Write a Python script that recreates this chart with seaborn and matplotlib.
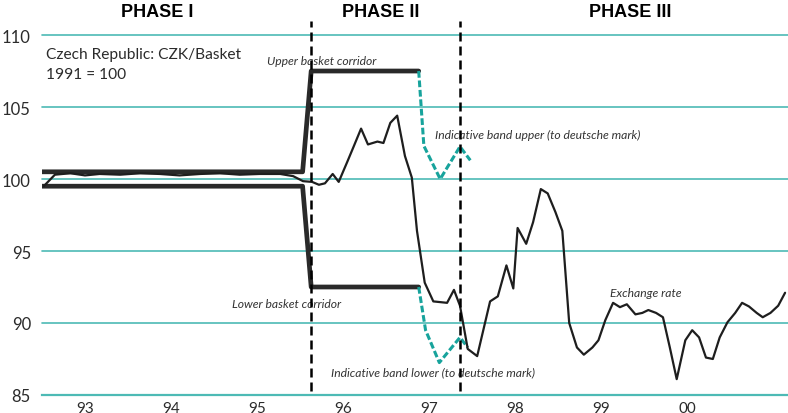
import matplotlib
matplotlib.use("Agg")
import matplotlib.pyplot as plt
import seaborn as sns

# data (x in decimal years)
upper_x = [1993.0, 1996.03, 1996.13, 1997.38]
upper_y = [100.5, 100.5, 107.5, 107.5]
lower_x = [1993.0, 1996.03, 1996.13, 1997.38]
lower_y = [99.5, 99.5, 92.5, 92.5]

band_up_x = [1997.38, 1997.44, 1997.63, 1997.86, 1997.98]
band_up_y = [107.5, 102.3, 100.0, 102.25, 101.3]
band_lo_x = [1997.38, 1997.46, 1997.62, 1997.86, 1997.95]
band_lo_y = [92.5, 89.5, 87.25, 89.0, 88.3]

rate_x = [1993.02, 1993.15, 1993.33, 1993.5, 1993.67, 1993.91, 1994.14, 1994.37,
          1994.6, 1994.84, 1995.07, 1995.3, 1995.53, 1995.77, 1995.92,
          1996.035, 1996.14, 1996.22, 1996.29, 1996.38, 1996.45, 1996.55, 1996.62,
          1996.71, 1996.79, 1996.90, 1996.97, 1997.05, 1997.13, 1997.22, 1997.30,
          1997.36, 1997.45, 1997.55, 1997.71, 1997.79, 1997.86, 1997.95, 1998.06,
          1998.21, 1998.30, 1998.40, 1998.48, 1998.53, 1998.63, 1998.71, 1998.80,
          1998.88, 1998.97, 1999.05, 1999.13, 1999.22, 1999.30, 1999.40, 1999.47,
          1999.55, 1999.64, 1999.72, 1999.80, 1999.90, 1999.98, 2000.05, 2000.14,
          2000.22, 2000.30, 2000.38, 2000.48, 2000.56, 2000.64, 2000.72, 2000.80,
          2000.88, 2000.97, 2001.06, 2001.14, 2001.22, 2001.31, 2001.38, 2001.47,
          2001.56, 2001.64]
rate_y = [99.5, 100.3, 100.4, 100.25, 100.35, 100.3, 100.4, 100.35,
          100.25, 100.35, 100.4, 100.3, 100.35, 100.35, 100.2,
          99.85, 99.8, 99.6, 99.7, 100.35, 99.8, 101.2, 102.2,
          103.5, 102.4, 102.6, 102.5, 103.9, 104.4, 101.6, 100.1,
          96.4, 92.8, 91.5, 91.4, 92.3, 91.2, 88.2, 87.7,
          91.5, 91.85, 94.0, 92.4, 96.6, 95.5, 97.0, 99.3,
          99.0, 97.7, 96.4, 90.0, 88.3, 87.8, 88.3, 88.8,
          90.2, 91.4, 91.1, 91.3, 90.6, 90.7, 90.9, 90.7,
          90.4, 88.3, 86.1, 88.8, 89.5, 89.0, 87.6, 87.5,
          89.0, 90.05, 90.7, 91.4, 91.15, 90.7, 90.4, 90.7,
          91.2, 92.1]

phase_breaks = [1996.128, 1997.86]
year_labels = ['93', '94', '95', '96', '97', '98', '99', '00']

sns.set_style("white")
plt.rcParams['font.family'] = ['Lato', 'DejaVu Sans']

teal = '#4dbab5'
teal_dark = '#17a39c'
ink = '#2b2b2b'

fig = plt.figure(figsize=(7.88, 4.14), dpi=100)
ax = fig.add_axes([0.0533, 0.0435, 0.9467, 0.8695])

for v in [90, 95, 100, 105, 110]:
    ax.axhline(v, color=teal, lw=1.2, zorder=1, clip_on=False)

sns.lineplot(x=upper_x, y=upper_y, ax=ax, color='#2a2a2a', lw=3.4, zorder=3)
sns.lineplot(x=lower_x, y=lower_y, ax=ax, color='#2a2a2a', lw=3.4, zorder=3)
sns.lineplot(x=band_up_x, y=band_up_y, ax=ax, color=teal_dark, lw=2.2,
             linestyle=(0, (2.2, 0.9)), zorder=3)
sns.lineplot(x=band_lo_x, y=band_lo_y, ax=ax, color=teal_dark, lw=2.2,
             linestyle=(0, (2.2, 0.9)), zorder=3)
sns.lineplot(x=rate_x, y=rate_y, ax=ax, color='#1e1e1e', lw=1.6, zorder=4)

for b in phase_breaks:
    ax.axvline(b, ymin=0.01, ymax=1.04, color='black', lw=1.8,
               linestyle=(0, (3.6, 2.0)), clip_on=False, zorder=5)

ax.set_xlim(1993, 2001.674)
ax.set_ylim(85, 110)

ax.set_yticks([85, 90, 95, 100, 105, 110])
ax.set_yticklabels(['85', '90', '95', '100', '105', '110'])
ax.tick_params(axis='y', length=0, pad=8, labelsize=12, labelcolor=ink)

ax.set_xticks([1993 + i for i in range(9)])
ax.set_xticklabels([])
ax.set_xticks([1993.5 + i for i in range(8)], minor=True)
ax.set_xticklabels(year_labels, minor=True)
ax.tick_params(axis='x', which='major', direction='in', length=6, width=1.2, color=teal)
ax.tick_params(axis='x', which='minor', length=0, pad=4, labelsize=11, labelcolor=ink)

for s in ['top', 'left', 'right']:
    ax.spines[s].set_visible(False)
ax.spines['bottom'].set_color(teal)
ax.spines['bottom'].set_linewidth(1.6)

# annotations
ax.text(1993.05, 108.7, 'Czech Republic: CZK/Basket', fontsize=11.2, color=ink, va='center')
ax.text(1993.05, 107.3, '1991 = 100', fontsize=11.2, color=ink, va='center')
ital = dict(fontsize=8.7, style='italic', color='#333333', va='center')
ax.text(1995.62, 108.26, 'Upper basket corridor', **ital)
ax.text(1997.57, 103.12, 'Indicative band upper (to deutsche mark)', **ital)
ax.text(1995.21, 91.36, 'Lower basket corridor', **ital)
ax.text(1996.36, 86.63, 'Indicative band lower (to deutsche mark)', **ital)
ax.text(1999.60, 92.13, 'Exchange rate', **ital)

phase = dict(fontsize=13, fontweight='bold', ha='center', va='center',
             family=['Liberation Sans', 'DejaVu Sans'], color='black')
fig.text(0.199, 0.969, 'PHASE I', **phase)
fig.text(0.4835, 0.969, 'PHASE II', **phase)
fig.text(0.7995, 0.969, 'PHASE III', **phase)

fig.savefig('out.png', dpi=100, facecolor='white')
